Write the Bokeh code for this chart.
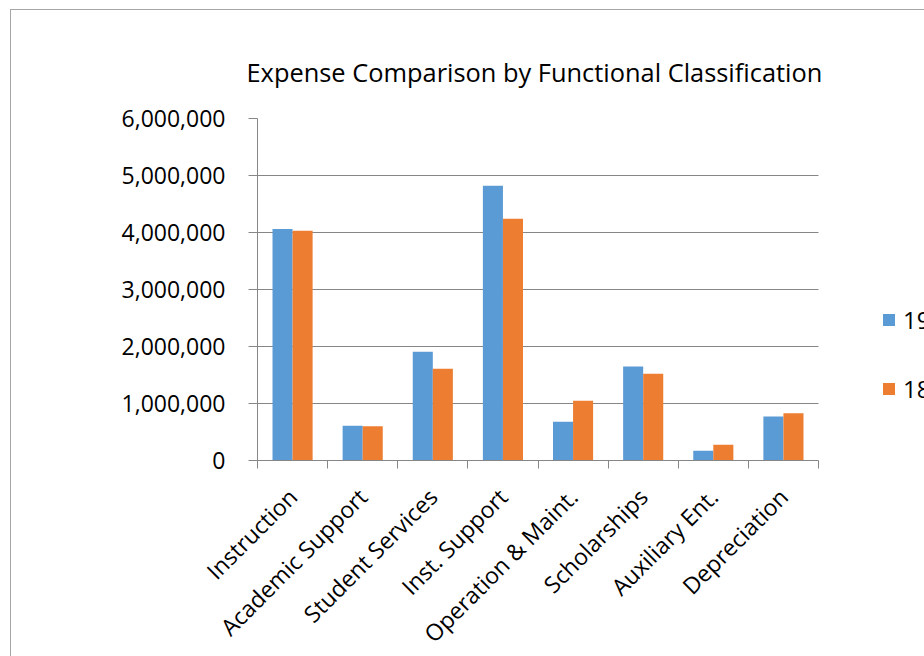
from bokeh.plotting import figure
from bokeh.models import (Range1d, FixedTicker, LinearAxis, NumeralTickFormatter,
                          Legend, LegendItem)
from bokeh.embed import file_html
from bokeh.resources import INLINE
from math import pi

title_text = "Expense Comparison by Functional Classification"
categories = ["Instruction", "Academic Support", "Student Services", "Inst. Support",
              "Operation & Maint.", "Scholarships", "Auxiliary Ent.", "Depreciation"]
series_names = ["19", "18"]
values_19 = [4060000, 610000, 1910000, 4820000, 680000, 1650000, 170000, 770000]
values_18 = [4030000, 600000, 1610000, 4240000, 1050000, 1520000, 275000, 830000]
y_ticks = [0, 1000000, 2000000, 3000000, 4000000, 5000000, 6000000]

FONT = "Open Sans"
BLUE = "#5B9BD5"
ORANGE = "#ED7D31"
GRID = "#868686"
BAR_W = 0.286

n = len(categories)
centers = [i + 0.5 for i in range(n)]
boundaries = [float(i) for i in range(n + 1)]

FRAME_W = 668          # frame runs to the window edge; the legend sits in its right part
PLOT_W = 561           # pixel width taken by the categories
x_end = n * FRAME_W / PLOT_W

p = figure(frame_width=FRAME_W, frame_height=342, x_range=Range1d(0, x_end),
           y_range=Range1d(0, 6000000), output_backend="svg", toolbar_location=None,
           x_axis_location=None, min_border_left=246, min_border_right=0,
           min_border_top=108, min_border_bottom=188, margin=(9, 0, 0, 10))
p.styles = {"border-top": "1px solid #a6a6a6", "border-left": "1px solid #a6a6a6",
            "border-right": "none", "border-bottom": "none"}
p.outline_line_color = None
p.background_fill_color = "white"
p.border_fill_color = "white"

p.title.text = title_text
p.title.align = "left"
p.title.offset = -11
p.title.text_font = FONT
p.title.text_font_size = "25.4px"
p.title.text_font_style = "normal"
p.title.text_color = "black"
p.title.standoff = 60

src = dict(x19=[c - BAR_W / 2 for c in centers], x18=[c + BAR_W / 2 for c in centers],
           v19=values_19, v18=values_18)
r1 = p.vbar(x="x19", top="v19", width=BAR_W, bottom=0, source=src,
            fill_color=BLUE, line_color=None)
r2 = p.vbar(x="x18", top="v18", width=BAR_W, bottom=0, source=src,
            fill_color=ORANGE, line_color=None)

# y axis
yax = p.yaxis[0]
yax.ticker = FixedTicker(ticks=y_ticks)
yax.formatter = NumeralTickFormatter(format="0,0")
yax.major_tick_out = 9
yax.major_tick_in = 0
yax.minor_tick_line_color = None
yax.axis_line_color = GRID
yax.major_tick_line_color = GRID
yax.major_label_text_font = FONT
yax.major_label_text_font_size = "23px"
yax.major_label_text_color = "black"
yax.major_label_standoff = 23
p.ygrid.ticker = FixedTicker(ticks=y_ticks)
p.ygrid.grid_line_color = GRID
p.ygrid.cross_bounds = (0, n)
p.xgrid.visible = False

# x axis: boundary ticks (minor) + category labels (major)
cax = LinearAxis(ticker=FixedTicker(ticks=centers, minor_ticks=boundaries),
                 major_label_overrides={c: lab for c, lab in zip(centers, categories)},
                 bounds=(0, n))
cax.axis_line_color = GRID
cax.major_tick_line_color = None
cax.major_tick_out = 0
cax.major_tick_in = 0
cax.minor_tick_line_color = GRID
cax.minor_tick_out = 8
cax.minor_tick_in = 0
cax.major_label_orientation = pi / 4
cax.major_label_text_font = FONT
cax.major_label_text_font_size = "23px"
cax.major_label_text_color = "black"
cax.major_label_standoff = 24
p.add_layout(cax, "below")

legend = Legend(items=[LegendItem(label=series_names[0], renderers=[r1]),
                       LegendItem(label=series_names[1], renderers=[r2])],
                location=(624, 55), orientation="vertical", glyph_width=15, glyph_height=15,
                label_height=30, spacing=36, padding=0, margin=0, label_standoff=7,
                label_text_font=FONT, label_text_font_size="24px", label_text_color="black",
                border_line_color=None, background_fill_alpha=0)
p.add_layout(legend, "center")

open("out.html", "w").write(file_html(p, INLINE))
